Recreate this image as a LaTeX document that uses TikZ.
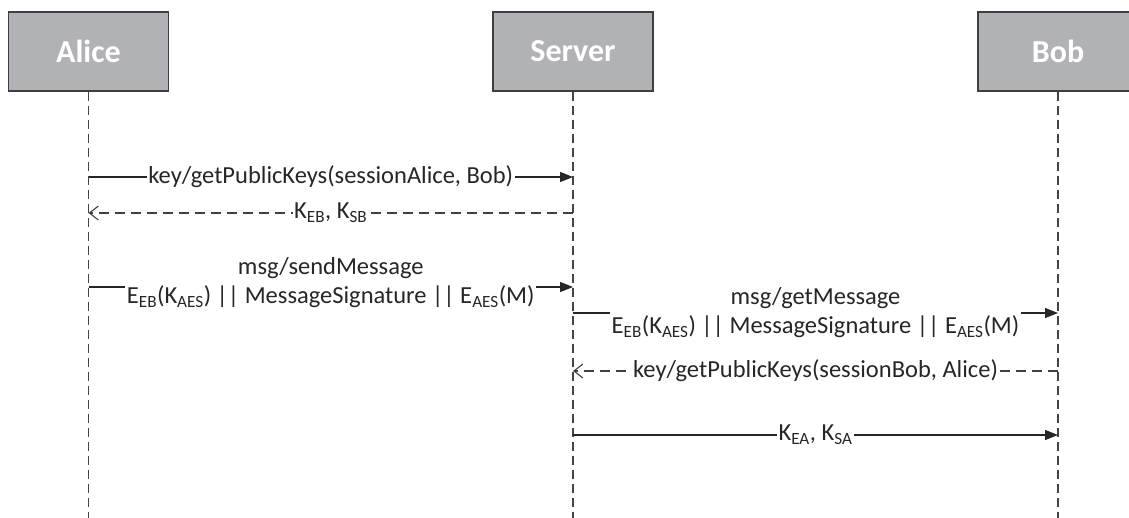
\documentclass[tikz,border=0pt]{standalone}
\usepackage{fontspec}
\setmainfont{Carlito}
\usetikzlibrary{arrows.meta}
\definecolor{boxgray}{HTML}{B1B2B6}
\definecolor{boxedge}{HTML}{3F3F3F}
\definecolor{lifegray}{HTML}{444444}
\begin{document}
\begin{tikzpicture}[x=1pt,y=-1pt,
 actor/.style={draw=boxedge, line width=1.2pt, fill=boxgray, minimum width=160pt, minimum height=79pt, text=white, font=\fontsize{32}{36}\selectfont\bfseries, inner sep=0pt},
 lifeline/.style={draw=lifegray, line width=1.2pt, dash pattern=on 9pt off 5pt},
 msg/.style={draw=black!85, line width=1.1pt, -{Triangle[length=13pt,width=10pt]}},
 reply/.style={draw=black!75, line width=1.1pt, dash pattern=on 10pt off 6pt, -{Straight Barb[length=9pt,width=14pt]}},
 lbl/.style={fill=white, inner sep=1.5pt, font=\fontsize{24.5}{29}\selectfont, align=center, text=black!85},
]
\useasboundingbox (0,0) rectangle (1129,518);
\begin{scope}
\clip (0,0) rectangle (1129,518);
\node[actor] (alice) at (88.5,51.5) {Alice};
\node[actor] (server) at (573,51.5) {Server};
\node[actor] (bob) at (1058,51.5) {Bob};
\end{scope}
\coordinate (aend) at (88.5,518);
\coordinate (send) at (573,518);
\coordinate (bend) at (1058,518);
\draw[lifeline] (alice.south) -- (aend);
\draw[lifeline] (server.south) -- (send);
\draw[lifeline] (bob.south) -- (bend);
% message points
\coordinate (a1) at (88.5,177);  \coordinate (s1) at (573,177);
\coordinate (a2) at (88.5,213);  \coordinate (s2) at (573,213);
\coordinate (a3) at (88.5,287);  \coordinate (s3) at (573,287);
\coordinate (s4) at (573,313);   \coordinate (b4) at (1058,313);
\coordinate (s5) at (573,371);   \coordinate (b5) at (1058,371);
\coordinate (s6) at (573,435);   \coordinate (b6) at (1058,435);
\draw[msg] (a1) -- node[lbl] {key/getPublicKeys(sessionAlice, Bob)} (s1);
\draw[reply] (s2) -- node[lbl] {K\textsubscript{EB}, K\textsubscript{SB}} (a2);
\draw[msg] (a3) -- node[lbl, yshift=4pt] {msg/sendMessage\\E\textsubscript{EB}(K\textsubscript{AES}) || MessageSignature || E\textsubscript{AES}(M)} (s3);
\draw[msg] (s4) -- node[lbl] {msg/getMessage\\E\textsubscript{EB}(K\textsubscript{AES}) || MessageSignature || E\textsubscript{AES}(M)} (b4);
\draw[reply] (b5) -- node[lbl] {key/getPublicKeys(sessionBob, Alice)} (s5);
\draw[msg] (s6) -- node[lbl] {K\textsubscript{EA}, K\textsubscript{SA}} (b6);
\end{tikzpicture}
\end{document}
